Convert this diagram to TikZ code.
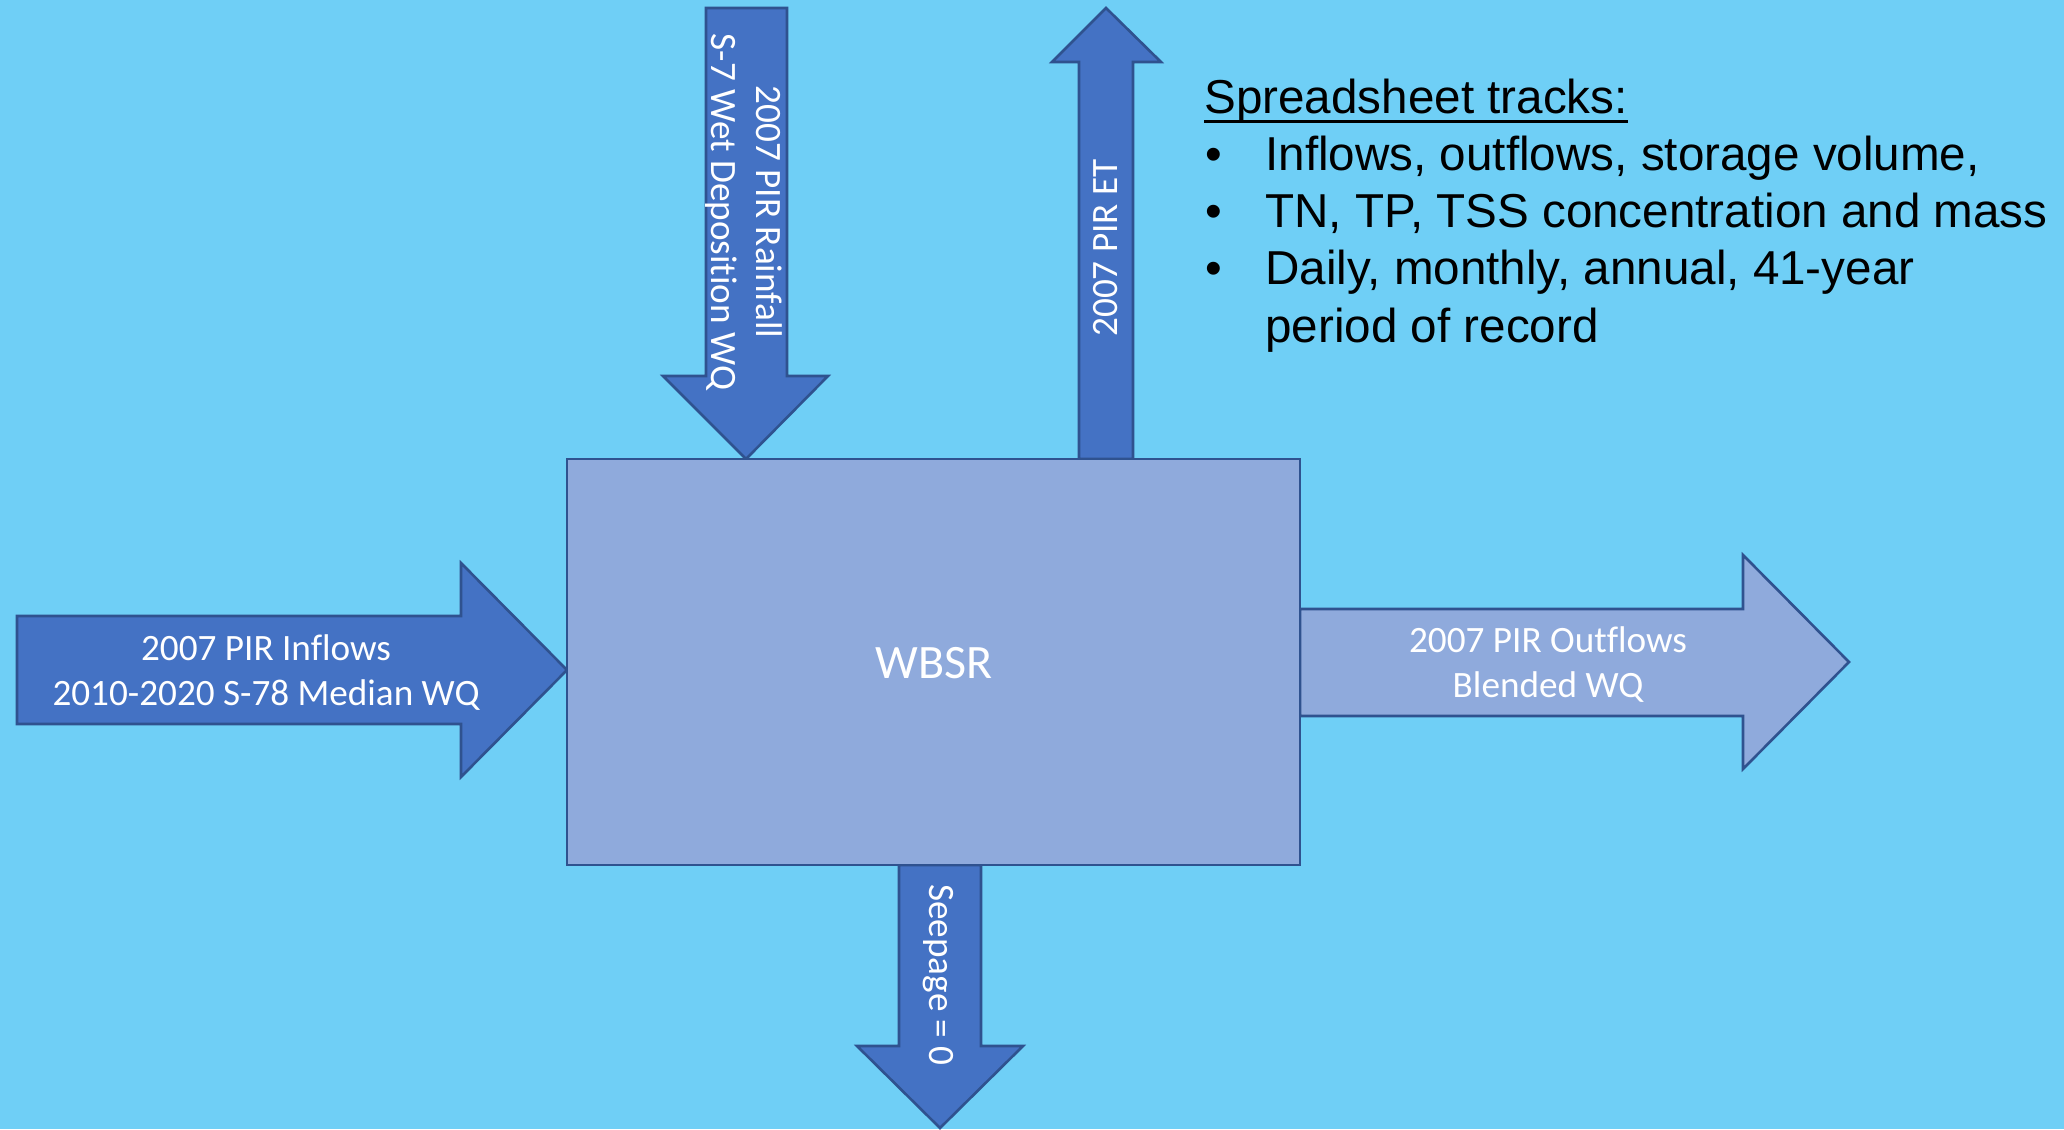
\documentclass[tikz,border=0pt]{standalone}
\usepackage{fontspec}
\setmainfont{Carlito}[Ligatures={TeX,NoCommon}]
\newfontfamily\listfont{Liberation Sans}
\definecolor{skybg}{RGB}{111,207,246}
\definecolor{flowblue}{RGB}{68,114,196}
\definecolor{lakeblue}{RGB}{143,170,220}
\definecolor{edgeblue}{RGB}{47,82,143}
\begin{document}
\begin{tikzpicture}[x=0.5pt,y=-0.5pt,line join=miter,
	flow/.style={fill=flowblue,draw=edgeblue,line width=1.3pt},
	lake/.style={fill=lakeblue,draw=edgeblue,line width=1.3pt},
	flowtext/.style={text=white,align=center,inner sep=0pt,font=\fontsize{18.6}{22.5}\selectfont},
	listtext/.style={inner sep=0pt,anchor=base west,font=\listfont\fontsize{23.8}{28.6}\selectfont}]
	% nen
	\fill[skybg] (0,0) rectangle (2064,1129);
	\useasboundingbox (0,0) rectangle (2064,1129);
	% mui ten vao / ra
	\draw[flow] (17,616) -- (461,616) -- (461,563) -- (567,670) -- (461,777) -- (461,724) -- (17,724) -- cycle;
	\draw[lake] (1300,609) -- (1743,609) -- (1743,555) -- (1849,662) -- (1743,769) -- (1743,716) -- (1300,716) -- cycle;
	\draw[flow] (706,8) -- (787,8) -- (787,376) -- (828,376) -- (746,459) -- (663,376) -- (706,376) -- cycle;
	\draw[flow] (1079,459) -- (1079,62) -- (1052,62) -- (1106,8) -- (1161,62) -- (1133,62) -- (1133,459) -- cycle;
	\draw[flow] (899,865) -- (899,1046) -- (857,1046) -- (940,1128) -- (1023,1046) -- (981,1046) -- (981,865) -- cycle;
	% hop WBSR
	\draw[lake] (567,459) rectangle (1300,865);
	\node[flowtext,font=\fontsize{24}{29}\selectfont] (wbsr) at (934,663) {WBSR};
	% nhan mui ten
	\node[flowtext] (inflow) at (266,673) {2007 PIR Inflows\\2010-2020 S-78 Median WQ};
	\node[flowtext] (outflow) at (1548,665) {2007 PIR Outflows\\Blended WQ};
	\node[flowtext,rotate=-90] (rain) at (744,212) {2007 PIR Rainfall\\S-7 Wet Deposition WQ};
	\node[flowtext,rotate=90] (et) at (1106,248) {2007 PIR ET};
	\node[flowtext,rotate=-90] (seep) at (938,975) {Seepage = 0};
	% danh sach
	\node[listtext] (head) at (1204,113) {Spreadsheet tracks:};
	\draw[line width=1.5pt] ([yshift=-4pt]head.base west) -- ([yshift=-4pt]head.base east);
	\foreach \i/\y in {1/170.25,2/227.5,3/284.75}{
		\node[listtext] (dot\i) at (1205,\y) {\textbullet};
	}
	\node[listtext] (item1) at (1265,170.25) {Inflows, outflows, storage volume,};
	\node[listtext] (item2) at (1265,227.5) {TN, TP, TSS concentration and mass};
	\node[listtext] (item3) at (1265,284.75) {Daily, monthly, annual, 41-year};
	\node[listtext] (item4) at (1265,342) {period of record};
\end{tikzpicture}
\end{document}
